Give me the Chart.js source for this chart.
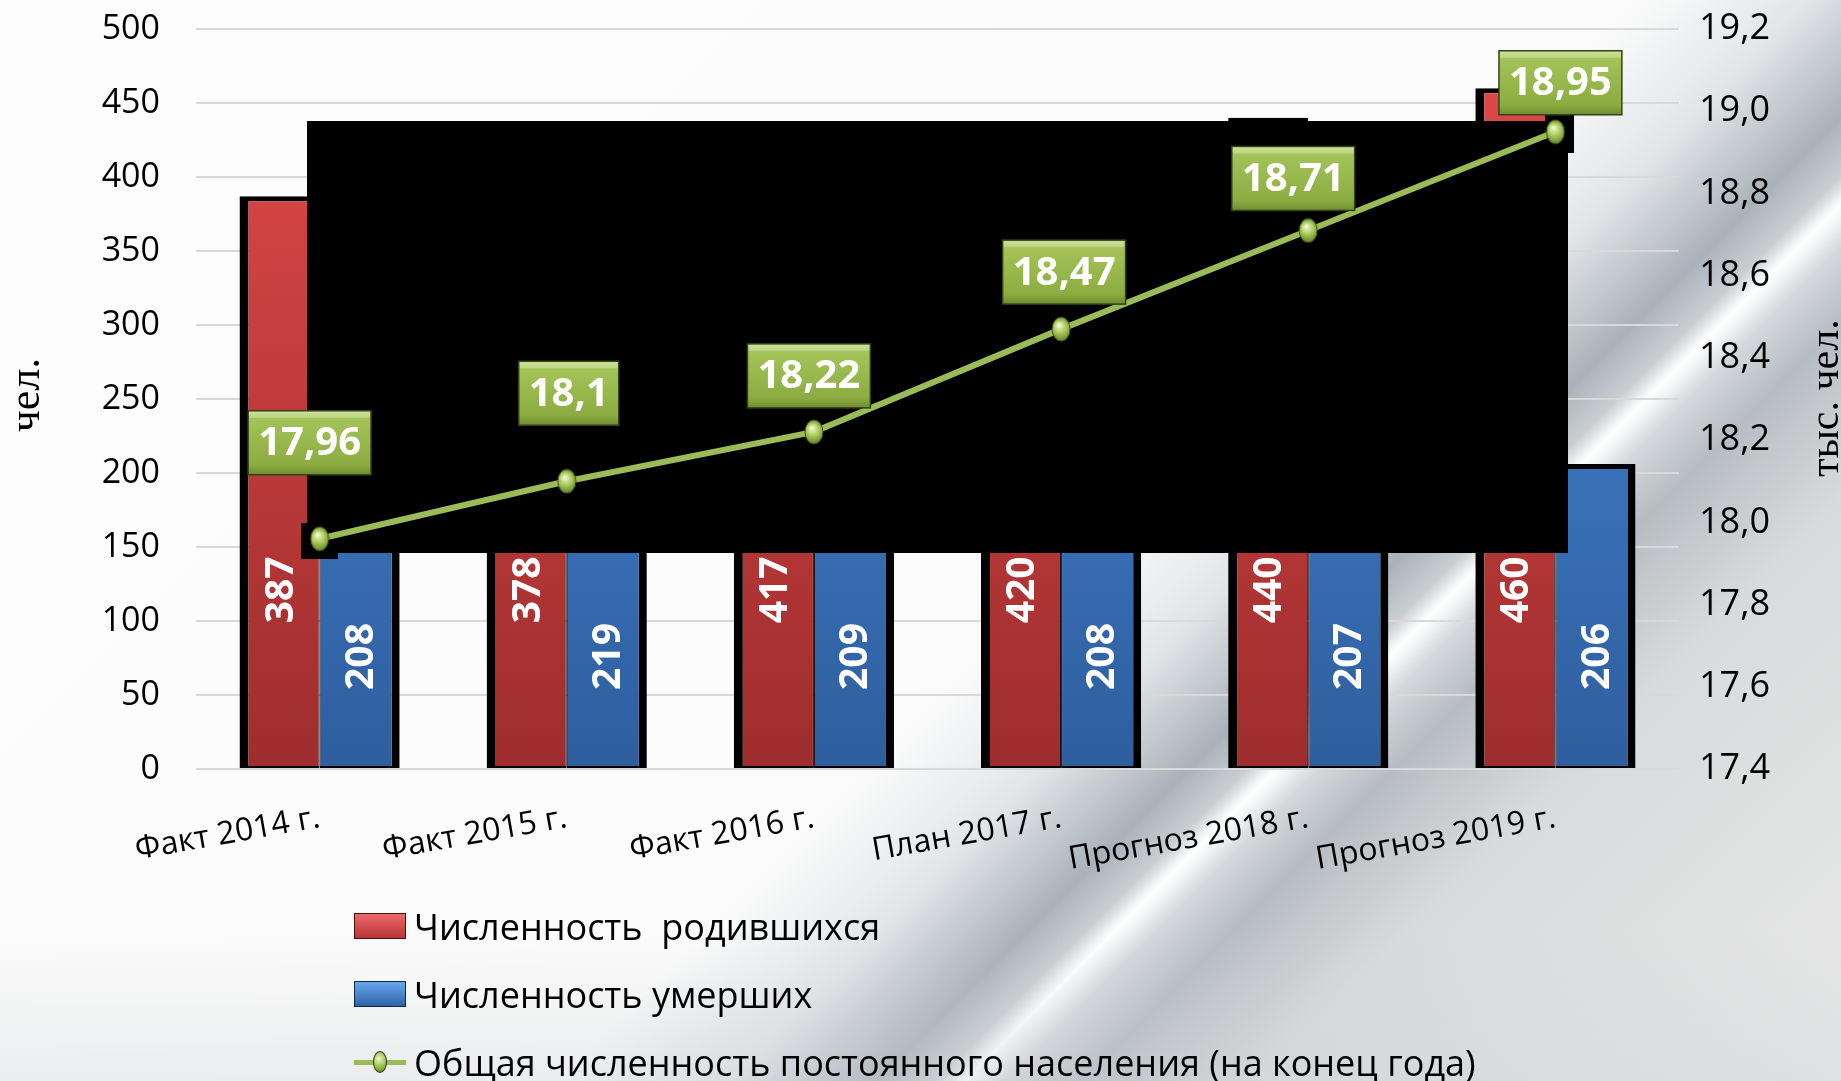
<!DOCTYPE html>
<html lang="ru">
<head>
<meta charset="utf-8">
<title>Численность населения</title>
<script src="https://cdn.jsdelivr.net/npm/chart.js@4.4.1/dist/chart.umd.min.js"></script>
<style>
  html, body { margin: 0; padding: 0; }
  #wrap {
    position: relative; width: 1841px; height: 1081px; overflow: hidden;
    background:
      linear-gradient(to bottom, rgba(255,255,255,0) 86%, rgba(205,208,212,0.35) 100%),
      linear-gradient(135deg, #fdfdfd 0%, #fbfbfb 56%, #e2e5e8 62%, #aab2b9 67%, #c9ced2 69%, #ffffff 70%, #d3d7db 71.5%, #b7bdc3 74%, #d9dadb 80%, #e9e9e9 100%);
    font-family: "Open Sans", sans-serif;
  }
  #chart { position: absolute; left: 0; top: 0; }
  .leg { position: absolute; left: 354px; height: 40px; display: flex; align-items: center; font-size: 36px; color: #000; white-space: pre; }
  .sw { width: 52px; height: 26px; margin-right: 8px; box-sizing: border-box; }
  .sw.red { background: linear-gradient(#ec6a6a, #b83535); border: 1px solid #4a1010; }
  .sw.blue { background: linear-gradient(#6aa6ec, #2f63a8); border: 1px solid #10284a; }
  .sw.line { position: relative; border: none; }
  .sw.line::before { content: ""; position: absolute; left: 0; right: 0; top: 11px; height: 5px; background: #9bbb59; }
  .sw.line::after { content: ""; position: absolute; left: 19px; top: 2px; width: 14px; height: 22px; border-radius: 50%;
    background: radial-gradient(circle at 40% 35%, #eaf5c0 0%, #a6c75a 45%, #5f7f25 100%); border: 1px solid #2d3d10; box-sizing: border-box; }
</style>
</head>
<body>
<div id="wrap">
  <canvas id="chart" width="1841" height="1081"></canvas>
  <div class="leg" style="top:906px"><div class="sw red"></div>Численность  родившихся</div>
  <div class="leg" style="top:974px"><div class="sw blue"></div>Численность умерших</div>
  <div class="leg" style="top:1042px"><div class="sw line"></div>Общая численность постоянного населения (на конец года)</div>
</div>
<script>
// данные
const categories = ["Факт 2014 г.", "Факт 2015 г.", "Факт 2016 г.", "План 2017 г.", "Прогноз 2018 г.", "Прогноз 2019 г."];
const births = [387, 378, 417, 420, 440, 460];
const deaths = [208, 219, 209, 208, 207, 206];
const population = [17.96, 18.1, 18.22, 18.47, 18.71, 18.95];

// оси
const leftAxis = { min: 0, max: 500, step: 50 };
const rightAxis = { min: 17.4, max: 19.2, step: 0.2 };

// где стоят подписи (значение левой оси / сдвиг в пикселях)
const birthsLabelAt = 121;
const deathsLabelAt = 76;
const popLabelLift = [96, 88, 56, 57, 52, 49];
const popLabelShift = [-10, 2, -5, 3, -15, 5];

// чёрная заплатка поверх диаграммы (как в оригинале)
const blackPatches = [[307, 121, 1568, 553], [301, 523, 338, 559], [1545, 115, 1574, 153]];

const comma = v => String(v).replace(".", ",");

// маркер-шарик
const sphere = document.createElement("canvas");
sphere.width = 20; sphere.height = 26;
(function () {
  const c = sphere.getContext("2d");
  const g = c.createRadialGradient(8, 9, 1, 10, 13, 13);
  g.addColorStop(0, "#eef7c8");
  g.addColorStop(0.45, "#a8c85c");
  g.addColorStop(1, "#5a7a22");
  c.fillStyle = g;
  c.beginPath();
  c.ellipse(10, 13, 9, 12, 0, 0, Math.PI * 2);
  c.fill();
  c.strokeStyle = "#3b5015";
  c.lineWidth = 1;
  c.stroke();
})();

function vGrad(ctx, top, bottom) {
  const chart = ctx.chart;
  const a = chart.chartArea;
  if (!a) return top;
  const g = chart.ctx.createLinearGradient(0, a.top, 0, a.bottom);
  g.addColorStop(0, top);
  g.addColorStop(1, bottom);
  return g;
}

const patchPlugin = {
  id: "patch",
  beforeDatasetDraw(chart, args) {
    if (args.index !== 2) return;
    const c = chart.ctx;
    c.save();
    c.fillStyle = "#000";
    blackPatches.forEach(r => c.fillRect(r[0], r[1], r[2] - r[0], r[3] - r[1]));
    c.restore();
  }
};

const labelsPlugin = {
  id: "labels",
  afterDatasetsDraw(chart) {
    const c = chart.ctx;
    const y = chart.scales.y;
    c.save();
    // подписи столбцов
    c.font = "bold 39px 'Open Sans'";
    c.fillStyle = "#fff";
    c.textAlign = "center";
    c.textBaseline = "middle";
    [[0, births, birthsLabelAt], [1, deaths, deathsLabelAt]].forEach(([di, vals, at]) => {
      const meta = chart.getDatasetMeta(di);
      meta.data.forEach((bar, i) => {
        c.save();
        c.translate(bar.x, y.getPixelForValue(at));
        c.rotate(-Math.PI / 2);
        c.fillText(String(vals[i]), 0, 2);
        c.restore();
      });
    });
    // подписи линии
    const meta = chart.getDatasetMeta(2);
    meta.data.forEach((pt, i) => {
      const txt = comma(population[i]);
      c.font = "bold 40px 'Open Sans'";
      const w = c.measureText(txt).width + 20;
      const h = 64;
      const cx = pt.x + popLabelShift[i];
      const cy = pt.y - popLabelLift[i];
      const x0 = cx - w / 2, y0 = cy - h / 2;
      const g = c.createLinearGradient(0, y0, 0, y0 + h);
      g.addColorStop(0, "#bcd977");
      g.addColorStop(0.12, "#a4c45a");
      g.addColorStop(0.85, "#8cac42");
      g.addColorStop(1, "#6e8c2e");
      c.fillStyle = g;
      c.fillRect(x0, y0, w, h);
      c.strokeStyle = "#33431a";
      c.lineWidth = 1.5;
      c.strokeRect(x0, y0, w, h);
      c.fillStyle = "rgba(255,255,255,0.25)";
      c.fillRect(x0 + 1, y0 + 1, w - 2, 6);
      c.fillStyle = "#fff";
      c.textAlign = "center";
      c.textBaseline = "middle";
      c.fillText(txt, cx, cy + 1);
    });
    c.restore();
  },
  afterDraw(chart) {
    const c = chart.ctx;
    c.save();
    c.fillStyle = "#000";
    c.textAlign = "center";
    c.textBaseline = "middle";
    c.font = "44px 'Liberation Serif'";
    c.translate(27, 395);
    c.rotate(-Math.PI / 2);
    c.fillText("чел.", 0, 0);
    c.restore();
    c.save();
    c.fillStyle = "#000";
    c.textAlign = "center";
    c.textBaseline = "middle";
    c.font = "42px 'Liberation Serif'";
    c.translate(1827, 398);
    c.rotate(-Math.PI / 2);
    c.fillText("тыс. чел.", 0, 0);
    c.restore();
  }
};

function noPad(s) {
  s.paddingTop = 0;
  s.paddingBottom = 0;
}

new Chart(document.getElementById("chart"), {
  data: {
    labels: categories,
    datasets: [
      {
        type: "bar",
        label: "Численность  родившихся",
        data: births,
        yAxisID: "y",
        order: 1,
        backgroundColor: ctx => vGrad(ctx, "#e24a4a", "#9e2d2d"),
        borderColor: "#000",
        borderWidth: { left: 9, top: 5, right: 1, bottom: 2 },
        borderSkipped: false,
        categoryPercentage: 0.648,
        barPercentage: 1
      },
      {
        type: "bar",
        label: "Численность умерших",
        data: deaths,
        yAxisID: "y",
        order: 1,
        backgroundColor: ctx => vGrad(ctx, "#4a8edf", "#2e5e9e"),
        borderColor: "#000",
        borderWidth: { left: 1, top: 5, right: 8, bottom: 2 },
        borderSkipped: false,
        categoryPercentage: 0.648,
        barPercentage: 1
      },
      {
        type: "line",
        label: "Общая численность постоянного населения (на конец года)",
        data: population,
        yAxisID: "y1",
        order: 0,
        borderColor: "#9bbb59",
        borderWidth: 6,
        tension: 0,
        pointStyle: sphere,
        pointRadius: 10
      }
    ]
  },
  options: {
    responsive: false,
    animation: false,
    layout: { padding: { top: 29, left: 0, right: 0, bottom: 0 } },
    plugins: { legend: { display: false }, tooltip: { enabled: false } },
    scales: {
      x: {
        grid: { display: false },
        border: { display: false },
        ticks: {
          color: "#000",
          font: { family: "'Open Sans'", size: 32 },
          maxRotation: 10, minRotation: 10,
          autoSkip: false,
          padding: 22
        },
        afterFit(s) { s.height = 312; s.paddingLeft = 0; s.paddingRight = 0; }
      },
      y: {
        position: "left",
        min: leftAxis.min, max: leftAxis.max,
        grid: { color: "#d9d9d9", lineWidth: 2, drawTicks: false },
        border: { display: false },
        ticks: {
          stepSize: leftAxis.step,
          color: "#000",
          font: { family: "'Open Sans'", size: 34 },
          padding: 36
        },
        afterFit(s) { s.width = 196; noPad(s); }
      },
      y1: {
        position: "right",
        min: rightAxis.min, max: rightAxis.max,
        grid: { display: false, drawTicks: false },
        border: { display: false },
        ticks: {
          stepSize: rightAxis.step,
          color: "#000",
          font: { family: "'Open Sans'", size: 36 },
          padding: 20,
          callback: v => Number(v).toFixed(1).replace(".", ",")
        },
        afterFit(s) { s.width = 162; noPad(s); }
      }
    }
  },
  plugins: [patchPlugin, labelsPlugin]
});
</script>
</body>
</html>
